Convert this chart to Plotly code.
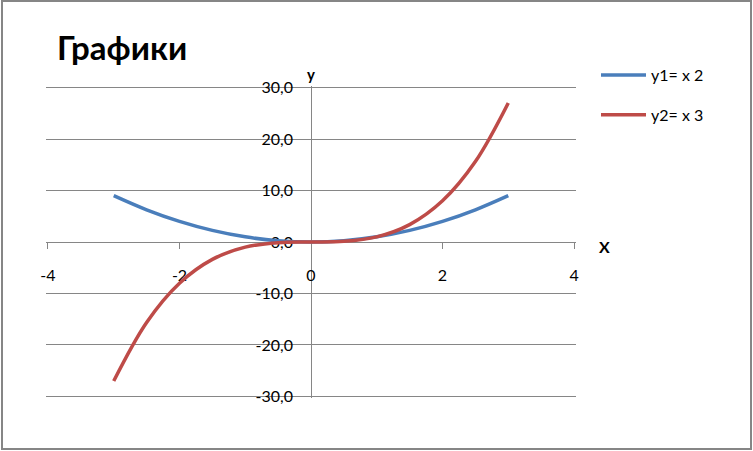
import plotly.graph_objects as go

x_vals = [-3, -2.5, -2, -1.5, -1, -0.5, 0, 0.5, 1, 1.5, 2, 2.5, 3]
y1_vals = [9, 6.25, 4, 2.25, 1, 0.25, 0, 0.25, 1, 2.25, 4, 6.25, 9]
y2_vals = [-27, -15.625, -8, -3.375, -1, -0.125, 0, 0.125, 1, 3.375, 8, 15.625, 27]
series_names = ["y1= x 2", "y2= x 3"]
x_ticks = [-4, -2, 0, 2, 4]
x_tick_labels = ["-4", "-2", "0", "2", "4"]
y_ticks = [-30, -20, -10, 0, 10, 20, 30]
y_tick_labels = ["-30,0", "-20,0", "-10,0", "0,0", "10,0", "20,0", "30,0"]
title_text = "Графики"
x_title = "X"
y_title = "y"

W, H = 753, 451
L, R, T, B = 46, 177, 86, 53
pw, ph = W - L - R, H - T - B

def px_x(p):
    return (p - L) / pw

def px_y(p):
    return (H - B - p) / ph

FONT = "Lato, Open Sans, sans-serif"
GRID = "#868686"

fig = go.Figure()
fig.add_trace(go.Scatter(x=x_vals, y=y1_vals, mode="lines", name=series_names[0],
                         line=dict(color="#4A7EBB", width=3.5, shape="spline"), legendgroup="a"))
fig.add_trace(go.Scatter(x=x_vals, y=y2_vals, mode="lines", name=series_names[1],
                         line=dict(color="#BE4B48", width=3.5, shape="spline"), legendgroup="b"))

fig.update_layout(
    width=W, height=H,
    margin=dict(l=L, r=R, t=T, b=B),
    plot_bgcolor="white", paper_bgcolor="white",
    font=dict(family=FONT, size=15, color="#000000"),
    showlegend=True,
    legend=dict(x=px_x(596), y=px_y(58), xanchor="left", yanchor="top",
                font=dict(size=16, family=FONT), traceorder="grouped",
                tracegroupgap=16, itemwidth=45, bgcolor="rgba(0,0,0,0)"),
    xaxis=dict(range=[-4.03, 4.03], tickvals=x_ticks, ticktext=x_tick_labels,
               showgrid=False, zeroline=True, zerolinecolor=GRID, zerolinewidth=1,
               showline=False,
               ticks="outside", ticklen=6, tickcolor=GRID, anchor="free", position=0.5,
               ticklabelstandoff=13, tickfont=dict(size=16), layer="below traces"),
    yaxis=dict(range=[-30.3, 30.3], tickvals=y_ticks, ticktext=y_tick_labels,
               showgrid=True, gridcolor=GRID, gridwidth=1,
               zeroline=True, zerolinecolor=GRID, zerolinewidth=1,
               showline=False, ticks="",
               anchor="free", position=0.5, ticklabelstandoff=18,
               tickfont=dict(size=16), layer="below traces"),
    annotations=[
        dict(text="<b>" + title_text + "</b>", x=px_x(55), y=px_y(47), xref="paper", yref="paper",
             xanchor="left", yanchor="middle", showarrow=False, font=dict(size=33, family=FONT)),
        dict(text="<b>" + y_title + "</b>", x=px_x(311), y=px_y(74), xref="paper", yref="paper",
             xanchor="center", yanchor="middle", showarrow=False, font=dict(size=15, family=FONT)),
        dict(text="<b>" + x_title + "</b>", x=px_x(604), y=px_y(246), xref="paper", yref="paper",
             xanchor="center", yanchor="middle", showarrow=False, font=dict(size=16, family=FONT)),
    ],
    shapes=[
        dict(type="rect", xref="paper", yref="paper", x0=px_x(2), x1=px_x(751), y0=px_y(449), y1=px_y(1),
             line=dict(color=GRID, width=2), fillcolor="rgba(0,0,0,0)", layer="below"),
    ],
)

fig.write_html("out.html", config={"displayModeBar": False},
               post_script="document.body.style.margin='0';")
